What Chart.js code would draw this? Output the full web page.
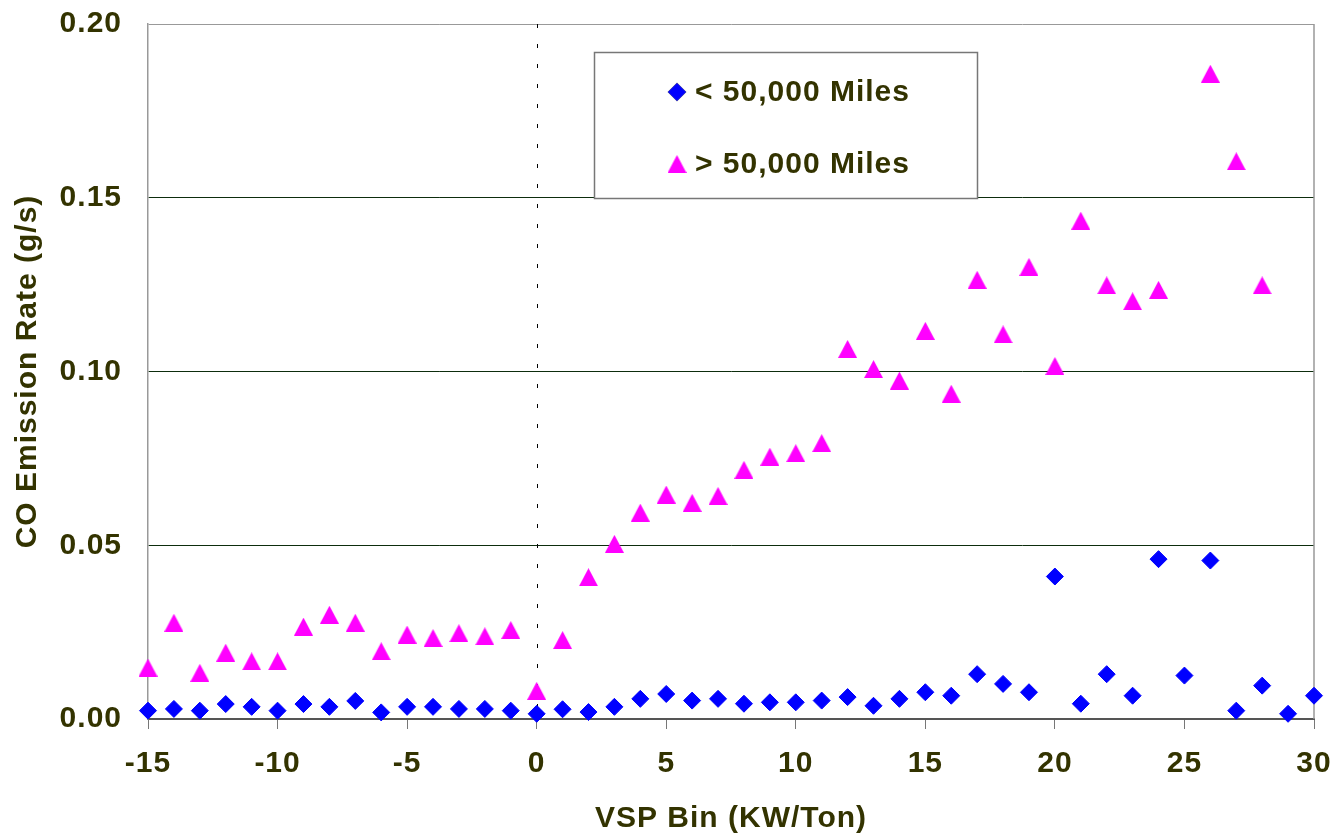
<!DOCTYPE html>
<html>
<head>
<meta charset="utf-8">
<script src="https://cdn.jsdelivr.net/npm/chart.js@4.4.1/dist/chart.umd.min.js"></script>
<style>
  body { margin: 0; background: #fff; }
  canvas { display: block; }
</style>
</head>
<body>
<canvas id="myChart" width="1336" height="837"></canvas>
<script>
// VSP bins (x values)
const vspBins = [-15, -14, -13, -12, -11, -10, -9, -8, -7, -6, -5, -4, -3, -2, -1, 0,
    1, 2, 3, 4, 5, 6, 7, 8, 9, 10, 11, 12, 13, 14, 15, 16, 17, 18, 19, 20,
    21, 22, 23, 24, 25, 26, 27, 28, 29, 30];

// CO rate, vehicles under 50,000 miles
const below50k = [0.0024, 0.0029, 0.0024, 0.0043, 0.0035, 0.0024, 0.0043, 0.0035, 0.0052, 0.0019,
    0.0035, 0.0035, 0.0029, 0.0029, 0.0024, 0.0015,
    0.0028, 0.0020, 0.0035, 0.0058, 0.0072, 0.0053, 0.0058, 0.0044, 0.0048, 0.0048,
    0.0053, 0.0063, 0.0038, 0.0058, 0.0077, 0.0067, 0.0129, 0.0101, 0.0077, 0.0410,
    0.0044, 0.0129, 0.0067, 0.0460, 0.0125, 0.0456, 0.0024, 0.0096, 0.0015, 0.0067];

// CO rate, vehicles over 50,000 miles (null = no point)
const above50k = [0.0148, 0.0277, 0.0133, 0.0191, 0.0166, 0.0166, 0.0266, 0.0300, 0.0277, 0.0195,
    0.0243, 0.0233, 0.0247, 0.0238, 0.0256, 0.0081,
    0.0227, 0.0408, 0.0504, 0.0594, 0.0646, 0.0622, 0.0642, 0.0717, 0.0755, 0.0765,
    0.0794, 0.1065, 0.1007, 0.0974, 0.1117, 0.0936, 0.1264, 0.1107, 0.1301, 0.1016,
    0.1434, 0.1248, 0.1202, 0.1235, null, 0.1857, 0.1605, 0.1248, null, null];

const seriesLabels = ['< 50,000 Miles', '> 50,000 Miles'];
const yTickLabels = ['0.00', '0.05', '0.10', '0.15', '0.20'];
const xTickLabels = ['-15', '-10', '-5', '0', '5', '10', '15', '20', '25', '30'];

const FONT = '"Liberation Sans", Arial, sans-serif';
const TEXT_COLOR = '#333300';

// triangle marker like the spreadsheet one
function makeTriangle(color) {
    const c = document.createElement('canvas');
    c.width = 19;
    c.height = 18;
    const g = c.getContext('2d');
    g.fillStyle = color;
    g.beginPath();
    g.moveTo(9.5, 0);
    g.lineTo(19, 18);
    g.lineTo(0, 18);
    g.closePath();
    g.fill();
    return c;
}

function toPoints(values) {
    const pts = [];
    for (let i = 0; i < vspBins.length; i++) {
        if (values[i] !== null) pts.push({ x: vspBins[i], y: values[i] });
    }
    return pts;
}

// spreadsheet text runs a bit wider; canvas resets drop it, so set it each time
const spacingPlugin = {
    id: 'spacing',
    beforeUpdate(chart) { chart.ctx.letterSpacing = '1px'; },
    beforeDraw(chart) { chart.ctx.letterSpacing = '1px'; }
};

// dashed zero line + right border
const framePlugin = {
    id: 'frame',
    beforeDatasetsDraw(chart) {
        const ctx = chart.ctx;
        const area = chart.chartArea;
        const x0 = Math.round(chart.scales.x.getPixelForValue(0)) + 0.5;
        ctx.save();
        ctx.strokeStyle = '#000';
        ctx.lineWidth = 1;
        ctx.setLineDash([4, 16]);
        ctx.beginPath();
        ctx.moveTo(x0, area.top);
        ctx.lineTo(x0, area.bottom);
        ctx.stroke();
        ctx.setLineDash([]);
        ctx.strokeStyle = '#999';
        ctx.lineWidth = 1.5;
        ctx.beginPath();
        ctx.moveTo(area.right, area.top);
        ctx.lineTo(area.right, area.bottom);
        ctx.stroke();
        ctx.restore();
    }
};

// boxed legend inside the plot
const legendBoxPlugin = {
    id: 'legendBox',
    afterDatasetsDraw(chart) {
        const ctx = chart.ctx;
        ctx.save();
        ctx.fillStyle = '#fff';
        ctx.fillRect(594, 52, 383, 146);
        ctx.strokeStyle = '#777';
        ctx.lineWidth = 1.5;
        ctx.strokeRect(594.5, 52.5, 383, 146);
        const rows = [92, 164];
        chart.data.datasets.forEach((ds, i) => {
            Chart.helpers.drawPoint(ctx, {
                pointStyle: ds.pointStyle,
                radius: ds.pointRadius,
                borderWidth: ds.borderWidth,
                rotation: 0
            }, 677, rows[i]);
            if (ds.pointStyle === 'rectRot') {
                ctx.fillStyle = ds.backgroundColor;
                ctx.strokeStyle = ds.borderColor;
                ctx.lineWidth = ds.borderWidth;
                ctx.fill();
                ctx.stroke();
            }
            ctx.fillStyle = TEXT_COLOR;
            ctx.font = 'bold 30px ' + FONT;
            ctx.textBaseline = 'middle';
            ctx.textAlign = 'left';
            ctx.fillText(ds.label, 695, rows[i] + 1);
        });
        ctx.restore();
    }
};

function drawChart() {
    const canvas = document.getElementById('myChart');
    const ctx = canvas.getContext('2d');
    new Chart(ctx, {
        type: 'scatter',
        data: {
            datasets: [{
                label: seriesLabels[0],
                data: toPoints(below50k),
                pointStyle: 'rectRot',
                pointRadius: 8.5,
                backgroundColor: '#0000FF',
                borderColor: '#0000FF',
                borderWidth: 1,
                clip: false
            }, {
                label: seriesLabels[1],
                data: toPoints(above50k),
                pointStyle: makeTriangle('#FF00FF'),
                pointRadius: 10,
                backgroundColor: '#FF00FF',
                borderColor: '#FF00FF',
                borderWidth: 0,
                clip: false
            }]
        },
        options: {
            responsive: false,
            devicePixelRatio: 1,
            animation: false,
            layout: { padding: { top: 24, right: 22, left: 0, bottom: 0 } },
            plugins: {
                legend: { display: false },
                tooltip: { enabled: false }
            },
            scales: {
                x: {
                    type: 'linear',
                    min: -15,
                    max: 30,
                    afterFit(scale) { scale.height = 118; },
                    ticks: {
                        stepSize: 5,
                        padding: 2,
                        color: TEXT_COLOR,
                        font: { family: FONT, size: 30, weight: 'bold', lineHeight: 2.2 },
                        callback: (v) => xTickLabels[(v + 15) / 5]
                    },
                    grid: {
                        drawOnChartArea: false,
                        drawTicks: true,
                        tickLength: 10,
                        color: '#777'
                    },
                    border: { display: true, color: '#555', width: 2 },
                    title: {
                        display: true,
                        text: 'VSP Bin (KW/Ton)',
                        color: TEXT_COLOR,
                        font: { family: FONT, size: 30, weight: 'bold' },
                        padding: { top: 0, bottom: 0 }
                    }
                },
                y: {
                    min: 0,
                    max: 0.2,
                    afterFit(scale) { scale.width = 148; },
                    ticks: {
                        stepSize: 0.05,
                        padding: 0,
                        color: TEXT_COLOR,
                        font: { family: FONT, size: 30, weight: 'bold' },
                        callback: (v) => yTickLabels[Math.round(v / 0.05)]
                    },
                    grid: {
                        drawTicks: true,
                        tickLength: 26,
                        tickColor: 'rgba(0,0,0,0)',
                        lineWidth: 1,
                        color: (c) => {
                            if (!c.tick) return 'rgba(0,0,0,0)';
                            if (Math.abs(c.tick.value - 0.2) < 1e-9) return '#999';
                            if (Math.abs(c.tick.value) < 1e-9) return 'rgba(0,0,0,0)';
                            return '#0d2d0d';
                        }
                    },
                    border: { display: true, color: '#999', width: 1.5 },
                    title: {
                        display: true,
                        text: 'CO Emission Rate (g/s)',
                        color: TEXT_COLOR,
                        font: { family: FONT, size: 30, weight: 'bold' },
                        padding: { top: 10, bottom: 0 }
                    }
                }
            }
        },
        plugins: [spacingPlugin, framePlugin, legendBoxPlugin]
    });
}

drawChart();
</script>
</body>
</html>
